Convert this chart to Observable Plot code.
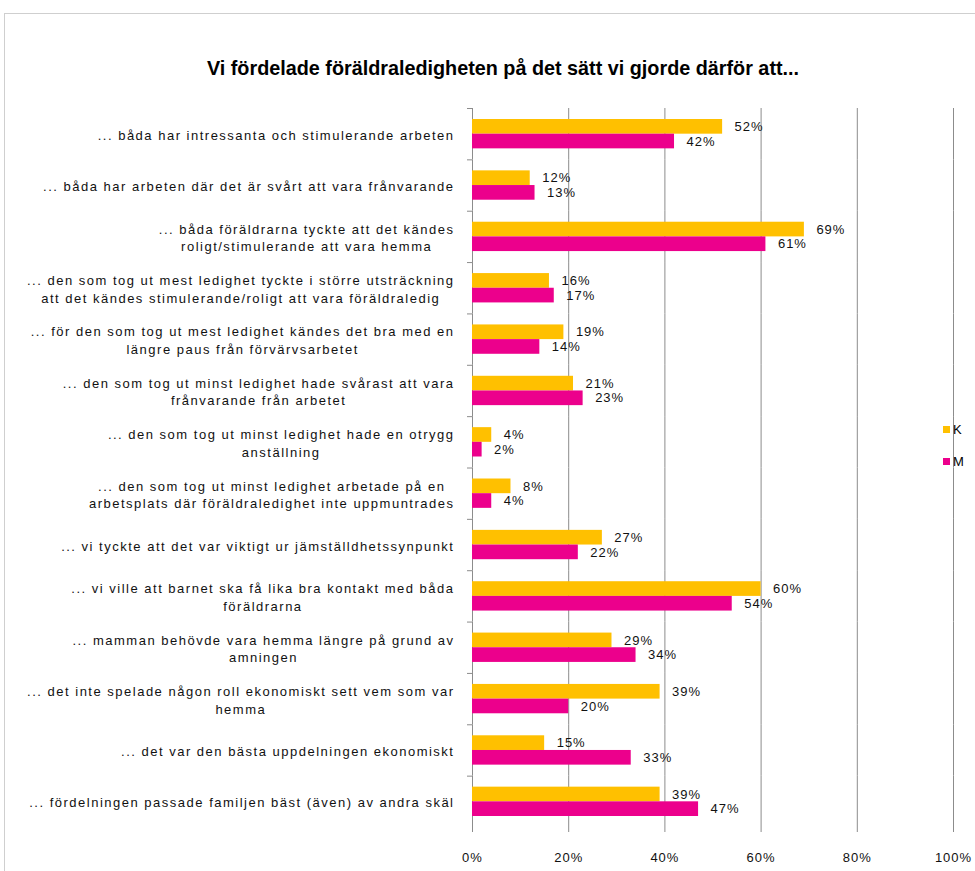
<!DOCTYPE html>
<html>
<head>
<meta charset="utf-8">
<script src="https://cdn.jsdelivr.net/npm/d3@7"></script>
<script src="https://cdn.jsdelivr.net/npm/@observablehq/plot@0.6"></script>
<style>
  html, body { margin: 0; padding: 0; background: #fff; overflow: hidden; }
  #wrap { position: relative; width: 975px; height: 871px; overflow: hidden; font-family: "Liberation Sans", Arial, sans-serif; }
  #border { position: absolute; left: 4px; top: 13px; width: 1100px; height: 1000px; border: 1px solid #cfcfcf; box-sizing: border-box; }
  #title { position: absolute; left: 0; width: 1006px; top: 57px; text-align: center; font-weight: bold; font-size: 19.8px; color: #000; white-space: nowrap; }
  #chart { position: absolute; left: 0; top: 0; }
  .leg { position: absolute; display: flex; align-items: center; font-size: 13px; color: #000; }
  .leg .sw { width: 7px; height: 7px; margin-right: 3px; }
  g[aria-label="fy-axis tick label"] { letter-spacing: 1.5px; }
</style>
</head>
<body>
<div id="wrap">
  <div id="border"></div>
  <div id="chart"></div>
  <div id="title"></div>
  <div id="legend"></div>
</div>
<script>
const titleText = "Vi fördelade föräldraledigheten på det sätt vi gjorde därför att...";

const categories = [
  "... båda har intressanta och stimulerande arbeten",
  "... båda har arbeten där det är svårt att vara frånvarande",
  "... båda föräldrarna tyckte att det kändes\nroligt/stimulerande att vara hemma",
  "... den som tog ut mest ledighet tyckte i större utsträckning\natt det kändes stimulerande/roligt att vara föräldraledig",
  "... för den som tog ut mest ledighet kändes det bra med en\nlängre paus från förvärvsarbetet",
  "... den som tog ut minst ledighet hade svårast att vara\nfrånvarande från arbetet",
  "... den som tog ut minst ledighet hade en otrygg\nanställning",
  "... den som tog ut minst ledighet arbetade på en\narbetsplats där föräldraledighet inte uppmuntrades",
  "... vi tyckte att det var viktigt ur jämställdhetssynpunkt",
  "... vi ville att barnet ska få lika bra kontakt med båda\nföräldrarna",
  "... mamman behövde vara hemma längre på grund av\namningen",
  "... det inte spelade någon roll ekonomiskt sett vem som var\nhemma",
  "... det var den bästa uppdelningen ekonomiskt",
  "... fördelningen passade familjen bäst (även) av andra skäl"
];
const kValues = [52, 12, 69, 16, 19, 21, 4, 8, 27, 60, 29, 39, 15, 39];
const mValues = [42, 13, 61, 17, 14, 23, 2, 4, 22, 54, 34, 20, 33, 47];
const series = ["K", "M"];
const seriesColors = ["#FFC000", "#EC008C"];
const xTicks = [0, 20, 40, 60, 80, 100];

const data = categories.flatMap((c, i) => [
  {cat: c, series: "K", value: kValues[i]},
  {cat: c, series: "M", value: mValues[i]}
]);

const W = 975, H = 871, mT = 108, mB = 44, mL = 472, mR = 22;
const step = (H - mT - mB) / categories.length;
const gridColor = "#8c8c8c";

const chart = Plot.plot({
  width: W, height: H,
  marginTop: mT, marginBottom: mB, marginLeft: mL, marginRight: mR,
  style: {fontFamily: "'Liberation Sans', Arial, sans-serif", fontSize: "13px", color: "#000", letterSpacing: "1px", background: "transparent"},
  x: {domain: [0, 100]},
  y: {domain: series, paddingInner: 0, paddingOuter: 0.75, round: false, axis: null},
  fy: {domain: categories, padding: 0, round: false},
  color: {domain: series, range: seriesColors},
  marks: [
    Plot.gridX({ticks: [20, 40, 60, 80, 100], stroke: gridColor, strokeOpacity: 1}),
    Plot.ruleX([0], {stroke: gridColor}),
    Plot.barX(data, {fy: "cat", y: "series", x: "value", fill: "series"}),
    Plot.text(data, {fy: "cat", y: "series", x: "value", text: d => d.value + "%", textAnchor: "start", dx: 12, fill: "#111"}),
    Plot.axisFy({anchor: "left", tickSize: 0, tickPadding: 18, label: null, lineHeight: 1.36, fill: "#111"}),
    Plot.axisFy({anchor: "left", tickSize: 5, tickFormat: () => "", label: null, dy: -step / 2, stroke: gridColor}),
    Plot.axisX({ticks: xTicks, tickFormat: d => d + "%", tickSize: 5, tickPadding: 20, line: true, stroke: gridColor, fill: "#111", label: null})
  ]
});

document.getElementById("chart").appendChild(chart);
document.getElementById("title").textContent = titleText;

// center multi-line category labels within their right-aligned block
chart.querySelectorAll('g[aria-label="fy-axis tick label"] text').forEach(t => {
  const spans = t.querySelectorAll("tspan");
  if (spans.length < 2) return;
  const w = Math.max(...Array.from(spans, s => s.getComputedTextLength()));
  t.setAttribute("text-anchor", "middle");
  spans.forEach(s => {
    const x0 = parseFloat(s.getAttribute("x") || "0");
    s.setAttribute("x", x0 - w / 2);
  });
});

// legend
const legend = document.getElementById("legend");
const legendTops = [422, 454];
series.forEach((s, i) => {
  const item = document.createElement("div");
  item.className = "leg";
  item.style.left = "943px";
  item.style.top = legendTops[i] + "px";
  item.innerHTML = `<span class="sw" style="background:${seriesColors[i]}"></span><span>${s}</span>`;
  legend.appendChild(item);
});
</script>
</body>
</html>
